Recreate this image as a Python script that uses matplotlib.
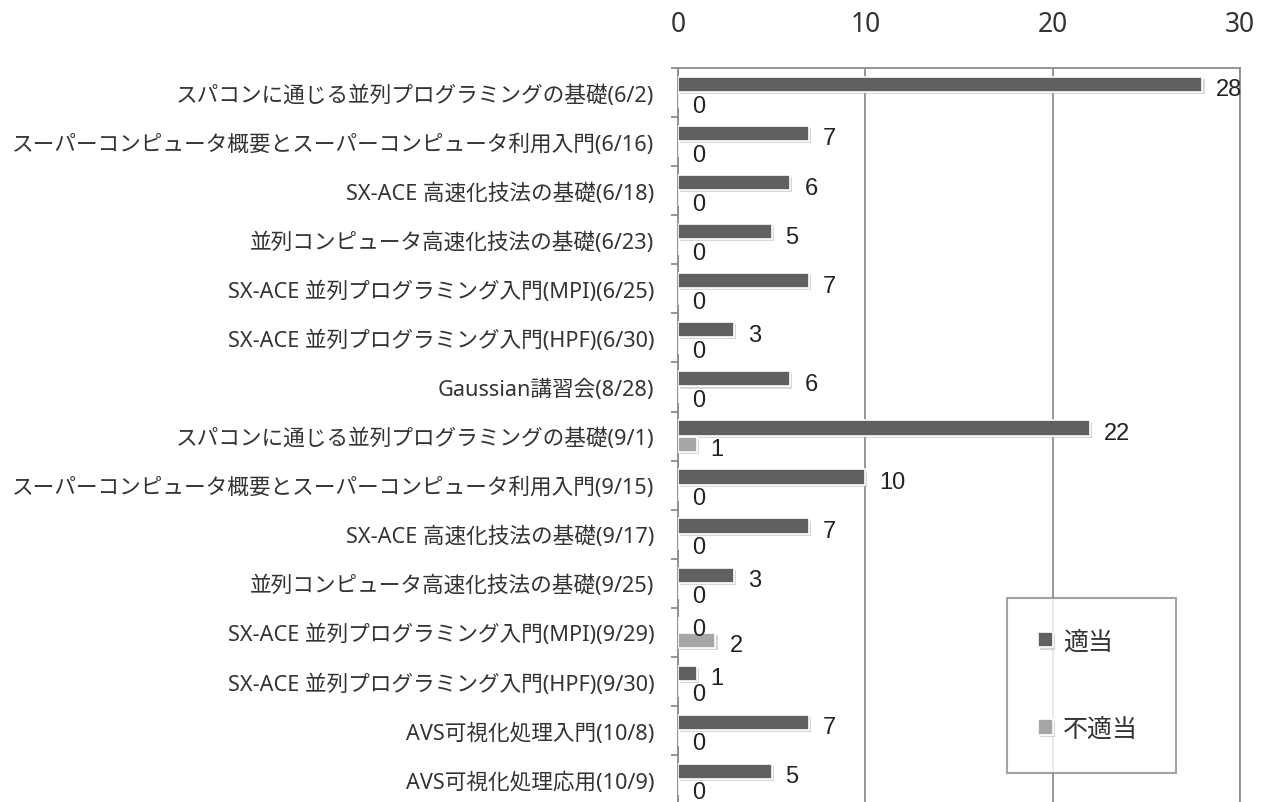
import numpy as np
import matplotlib.pyplot as plt
import matplotlib.patheffects as pe
from matplotlib.ticker import FixedLocator

plt.rcParams['font.family'] = ['Noto Sans', 'Noto Sans CJK JP', 'DejaVu Sans']

courses = [
    'スパコンに通じる並列プログラミングの基礎(6/2)',
    'スーパーコンピュータ概要とスーパーコンピュータ利用入門(6/16)',
    'SX-ACE 高速化技法の基礎(6/18)',
    '並列コンピュータ高速化技法の基礎(6/23)',
    'SX-ACE 並列プログラミング入門(MPI)(6/25)',
    'SX-ACE 並列プログラミング入門(HPF)(6/30)',
    'Gaussian講習会(8/28)',
    'スパコンに通じる並列プログラミングの基礎(9/1)',
    'スーパーコンピュータ概要とスーパーコンピュータ利用入門(9/15)',
    'SX-ACE 高速化技法の基礎(9/17)',
    '並列コンピュータ高速化技法の基礎(9/25)',
    'SX-ACE 並列プログラミング入門(MPI)(9/29)',
    'SX-ACE 並列プログラミング入門(HPF)(9/30)',
    'AVS可視化処理入門(10/8)',
    'AVS可視化処理応用(10/9)',
]
ok = [28, 7, 6, 5, 7, 3, 6, 22, 10, 7, 3, 0, 1, 7, 5]
ng = [0, 0, 0, 0, 0, 0, 0, 1, 0, 0, 0, 2, 0, 0, 0]
series_names = ['適当', '不適当']
xticks = [0, 10, 20, 30]

c_ok = '#606060'
c_ng = '#a6a6a6'

fig = plt.figure(figsize=(12.69, 8.03), dpi=100)
ax = fig.add_axes([0.5343, -0.0025, 0.4428, 0.9165])

y = np.arange(len(courses))
h = 0.31
# soft drop shadow under each bar
shadow = [pe.SimplePatchShadow(offset=(1.5, -1.5), shadow_rgbFace='#b0b0b0', alpha=0.5), pe.Normal()]
b1 = ax.barh(y - h / 2 - 0.01, ok, height=h, color=c_ok, edgecolor='white', linewidth=1.2,
             label=series_names[0], zorder=3)
b2 = ax.barh(y + h / 2 + 0.01, ng, height=h, color=c_ng, edgecolor='white', linewidth=1.2,
             label=series_names[1], zorder=3)
for bars in (b1, b2):
    for p in bars:
        p.set_path_effects(shadow)

for bars, vals in ((b1, ok), (b2, ng)):
    for p, v in zip(bars, vals):
        ax.annotate(str(v), (v, p.get_y() + p.get_height() / 2 + 0.1),
                    xytext=(10, 0), textcoords='offset points', va='center', ha='left',
                    fontsize=17, color='#222222', family=['Liberation Sans', 'DejaVu Sans'],
                    zorder=4)

ax.set_xlim(0, 30)
ax.set_ylim(len(courses) - 0.5, -0.5)

ax.xaxis.tick_top()
ax.set_xticks(xticks)
ax.tick_params(axis='x', length=0, pad=22, labelsize=19, labelcolor='#333333')
ax.grid(axis='x', color='#8c8c8c', linewidth=1.3, zorder=0)

ax.set_yticks(y)
ax.set_yticklabels(courses, fontsize=15.6, color='#333333')
ax.tick_params(axis='y', which='major', length=0, pad=17)
ax.yaxis.set_minor_locator(FixedLocator(np.arange(-0.5, len(courses), 1.0)))
ax.tick_params(axis='y', which='minor', length=5, width=1.3, color='#8c8c8c')

for side in ('left', 'top', 'right'):
    ax.spines[side].set_color('#8c8c8c')
    ax.spines[side].set_linewidth(1.3)
ax.spines['bottom'].set_visible(False)

leg = ax.legend(loc='lower left', bbox_to_anchor=(0.585, 0.042, 0.301, 0.239), mode='expand',
                fontsize=18, frameon=True, fancybox=False, edgecolor='#8c8c8c',
                handlelength=0.6, handleheight=0.6, handletextpad=0.4,
                labelspacing=2.5, borderpad=1.25, borderaxespad=0)
leg.get_frame().set_linewidth(1.5)
leg.set_zorder(5)
for t in leg.get_texts():
    t.set_color('#333333')

fig.savefig('out.png', dpi=100)
